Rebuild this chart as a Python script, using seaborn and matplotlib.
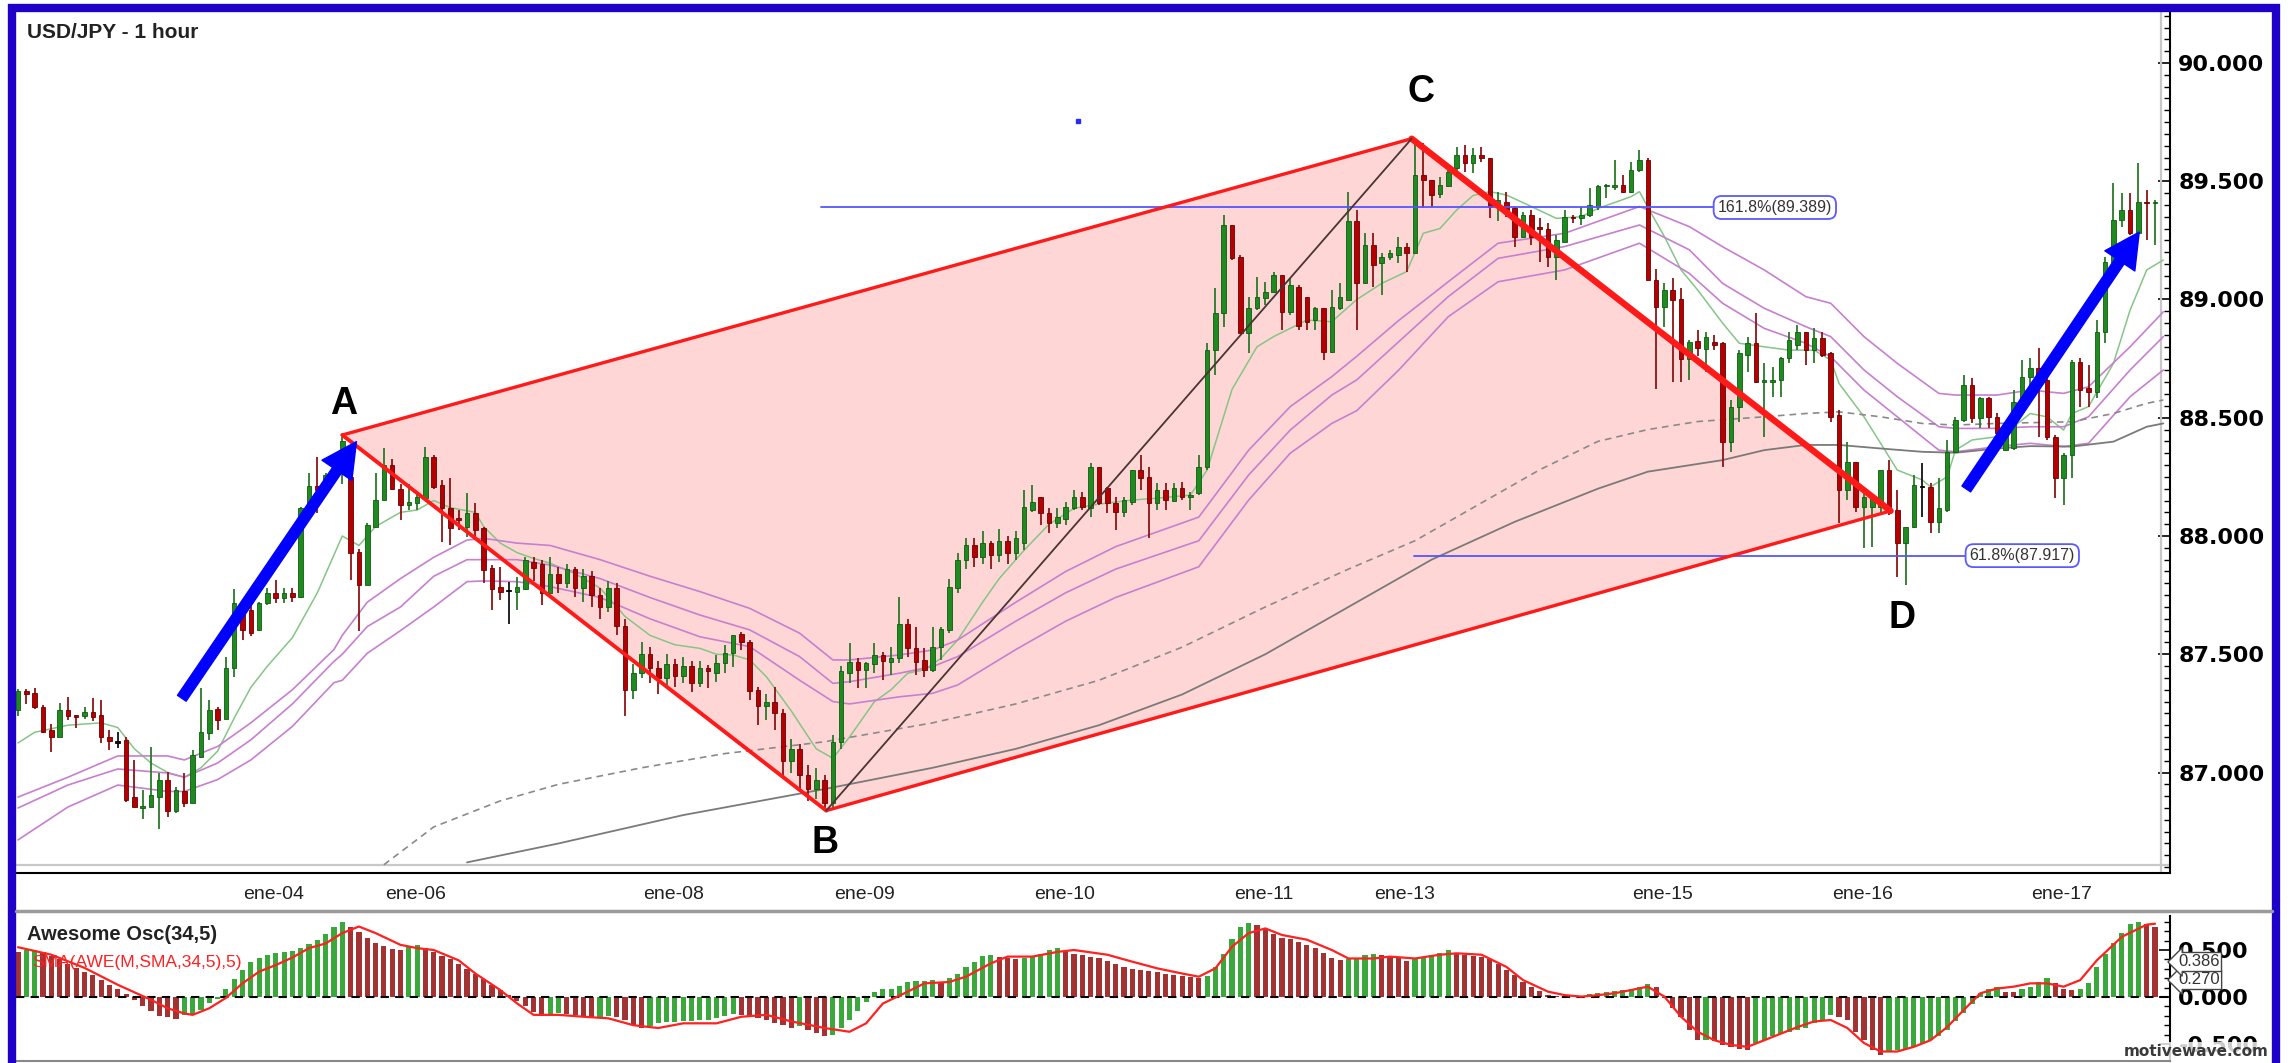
import numpy as np
import seaborn as sns
import matplotlib.pyplot as plt
from matplotlib.patches import Polygon, FancyArrowPatch, Rectangle
from matplotlib.lines import Line2D
from matplotlib.ticker import MultipleLocator
import matplotlib.transforms as mtransforms

# USD/JPY 1 hour candles (index = candle number)
opens = [87.264, 87.345, 87.336, 87.277, 87.18, 87.15, 87.264, 87.243, 87.239, 87.256,
         87.243, 87.15, 87.129, 87.138, 86.896, 86.85, 86.854, 86.896, 86.968, 86.837,
         86.922, 86.871, 87.066, 87.167, 87.268, 87.226, 87.44, 87.718, 87.687, 87.602,
         87.715, 87.757, 87.736, 87.76, 87.74, 88.10, 88.211, 88.21, 88.25, 88.35,
         88.25, 87.934, 87.793, 88.04, 88.152, 88.30, 88.20, 88.131, 88.138, 88.16,
         88.335, 88.215, 88.117, 88.075, 88.04, 88.096, 88.032, 87.863, 87.785, 87.77,
         87.764, 87.778, 87.89, 87.88, 87.757, 87.84, 87.80, 87.86, 87.78, 87.83,
         87.75, 87.70, 87.78, 87.62, 87.35, 87.42, 87.50, 87.44, 87.40, 87.46,
         87.41, 87.45, 87.38, 87.44, 87.42, 87.462, 87.504, 87.586, 87.553, 87.35,
         87.28, 87.30, 87.25, 87.05, 87.10, 86.99, 86.93, 86.97, 86.87, 87.13,
         87.422, 87.469, 87.434, 87.459, 87.497, 87.469, 87.483, 87.628, 87.525, 87.476,
         87.434, 87.532, 87.603, 87.78, 87.90, 87.96, 87.91, 87.97, 87.92, 87.98,
         87.93, 87.969, 88.11, 88.166, 88.096, 88.053, 88.074, 88.117, 88.166, 88.117,
         88.293, 88.201, 88.138, 88.103, 88.145, 88.279, 88.25, 88.138, 88.194, 88.15,
         88.201, 88.166, 88.18, 88.293, 88.786, 88.941, 89.315, 89.18, 88.857, 88.963,
         89.005, 89.033, 89.104, 88.948, 89.054, 89.012, 88.913, 88.963, 88.78, 88.963,
         88.998, 89.33, 89.068, 89.23, 89.153, 89.178, 89.19, 89.22, 89.198, 89.526,
         89.505, 89.446, 89.48, 89.555, 89.61, 89.576, 89.61, 89.597, 89.393, 89.414,
         89.385, 89.266, 89.357, 89.308, 89.30, 89.181, 89.245, 89.35, 89.343, 89.357,
         89.393, 89.48, 89.474, 89.484, 89.456, 89.547, 89.59, 89.083, 88.97, 89.04,
         89.0, 88.75, 88.826, 88.79, 88.82, 88.815, 88.399, 88.547, 88.766, 88.815,
         88.652, 88.652, 88.659, 88.751, 88.807, 88.864, 88.786, 88.836, 88.772, 88.51,
         88.194, 88.314, 88.124, 88.124, 88.124, 88.279, 88.11, 87.969, 88.04, 88.208,
         88.208, 88.06, 88.11, 88.356, 88.49, 88.638, 88.497, 88.582, 88.504, 88.364,
         88.37, 88.568, 88.674, 88.709, 88.66, 88.42, 88.244, 88.342, 88.737, 88.624,
         88.61, 88.864, 89.16, 89.336, 89.378, 89.28, 89.414, 89.407]
closes = [87.345, 87.332, 87.277, 87.171, 87.15, 87.264, 87.239, 87.235, 87.256, 87.235,
          87.15, 87.133, 87.129, 86.884, 86.854, 86.858, 86.905, 86.968, 86.837, 86.926,
          86.871, 87.074, 87.171, 87.264, 87.222, 87.442, 87.718, 87.602, 87.588, 87.718,
          87.757, 87.736, 87.757, 87.74, 88.117, 88.21, 88.194, 88.257, 88.30, 88.40,
          87.93, 87.793, 88.046, 88.152, 88.30, 88.197, 88.131, 88.145, 88.166, 88.335,
          88.208, 88.117, 88.032, 88.068, 88.096, 88.025, 87.856, 87.778, 87.764, 87.77,
          87.785, 87.898, 87.863, 87.757, 87.84, 87.80, 87.86, 87.78, 87.83, 87.75,
          87.70, 87.78, 87.62, 87.35, 87.42, 87.50, 87.44, 87.40, 87.46, 87.41,
          87.45, 87.38, 87.44, 87.43, 87.465, 87.507, 87.58, 87.553, 87.346, 87.28,
          87.30, 87.25, 87.05, 87.10, 86.99, 86.93, 86.97, 86.87, 87.13, 87.43,
          87.469, 87.434, 87.465, 87.497, 87.473, 87.483, 87.628, 87.525, 87.469, 87.434,
          87.532, 87.605, 87.783, 87.90, 87.96, 87.91, 87.97, 87.92, 87.98, 87.93,
          87.99, 88.124, 88.145, 88.096, 88.053, 88.081, 88.124, 88.166, 88.124, 88.293,
          88.138, 88.138, 88.103, 88.152, 88.279, 88.244, 88.138, 88.194, 88.152, 88.201,
          88.166, 88.173, 88.293, 88.786, 88.941, 89.315, 89.174, 88.857, 88.963, 89.012,
          89.033, 89.104, 88.948, 89.06, 88.89, 88.906, 88.963, 88.78, 88.97, 89.012,
          89.33, 89.068, 89.23, 89.146, 89.181, 89.195, 89.22, 89.198, 89.526, 89.505,
          89.442, 89.484, 89.54, 89.61, 89.576, 89.61, 89.597, 89.393, 89.42, 89.379,
          89.266, 89.357, 89.266, 89.30, 89.181, 89.252, 89.35, 89.343, 89.357, 89.40,
          89.48, 89.484, 89.484, 89.456, 89.547, 89.59, 89.083, 88.97, 89.04, 88.998,
          88.75, 88.82, 88.794, 88.843, 88.807, 88.399, 88.547, 88.772, 88.815, 88.652,
          88.659, 88.659, 88.751, 88.829, 88.864, 88.786, 88.836, 88.765, 88.504, 88.194,
          88.314, 88.124, 88.166, 88.166, 88.279, 88.11, 87.969, 88.04, 88.215, 88.208,
          88.06, 88.117, 88.356, 88.49, 88.638, 88.497, 88.582, 88.504, 88.434, 88.434,
          88.568, 88.674, 88.709, 88.66, 88.42, 88.244, 88.342, 88.737, 88.617, 88.61,
          88.864, 89.16, 89.336, 89.378, 89.28, 89.414, 89.407, 89.414]
highs = [87.353, 87.353, 87.357, 87.285, 87.205, 87.294, 87.32, 87.243, 87.277, 87.315,
         87.306, 87.18, 87.171, 87.15, 87.053, 86.926, 87.108, 86.998, 87.002, 86.939,
         86.998, 87.095, 87.357, 87.306, 87.277, 87.488, 87.774, 87.72, 87.72, 87.72,
         87.78, 87.814, 87.78, 87.78, 88.124, 88.265, 88.335, 88.265, 88.33, 88.42,
         88.265, 87.944, 88.053, 88.265, 88.37, 88.324, 88.22, 88.22, 88.187, 88.377,
         88.342, 88.236, 88.244, 88.11, 88.18, 88.138, 88.039, 87.877, 87.87, 87.807,
         87.828, 87.912, 87.912, 87.898, 87.912, 87.87, 87.88, 87.87, 87.86, 87.85,
         87.78, 87.81, 87.80, 87.65, 87.46, 87.55, 87.53, 87.47, 87.50, 87.48,
         87.49, 87.47, 87.47, 87.455, 87.497, 87.539, 87.58, 87.596, 87.56, 87.36,
         87.33, 87.36, 87.27, 87.14, 87.12, 87.03, 87.02, 86.99, 87.16, 87.45,
         87.549, 87.483, 87.469, 87.549, 87.511, 87.532, 87.741, 87.648, 87.617, 87.525,
         87.617, 87.617, 87.817, 87.93, 87.99, 87.99, 88.02, 87.98, 88.03, 88.00,
         88.02, 88.194, 88.215, 88.166, 88.117, 88.117, 88.145, 88.194, 88.187, 88.307,
         88.293, 88.208, 88.166, 88.166, 88.279, 88.342, 88.293, 88.222, 88.222, 88.222,
         88.23, 88.187, 88.342, 88.815, 89.047, 89.357, 89.315, 89.188, 89.012, 89.096,
         89.075, 89.118, 89.104, 89.089, 89.06, 89.012, 88.97, 88.963, 89.04, 89.068,
         89.456, 89.378, 89.28, 89.28, 89.195, 89.21, 89.265, 89.237, 89.681, 89.66,
         89.505, 89.52, 89.57, 89.646, 89.653, 89.639, 89.646, 89.597, 89.456, 89.456,
         89.393, 89.371, 89.378, 89.343, 89.322, 89.273, 89.378, 89.357, 89.393, 89.47,
         89.484, 89.49, 89.59, 89.526, 89.583, 89.632, 89.597, 89.13, 89.068, 89.09,
         89.05, 88.829, 88.87, 88.864, 88.85, 88.822, 88.575, 88.786, 88.843, 88.942,
         88.73, 88.716, 88.758, 88.864, 88.892, 88.864, 88.878, 88.864, 88.779, 88.533,
         88.399, 88.314, 88.18, 88.173, 88.279, 88.321, 88.194, 88.04, 88.258, 88.307,
         88.222, 88.244, 88.406, 88.504, 88.68, 88.666, 88.589, 88.589, 88.518, 88.44,
         88.617, 88.744, 88.751, 88.793, 88.673, 88.427, 88.349, 88.744, 88.751, 88.723,
         88.913, 89.181, 89.491, 89.449, 89.449, 89.576, 89.463, 89.42]
lows = [87.239, 87.29, 87.268, 87.167, 87.087, 87.15, 87.222, 87.19, 87.226, 87.218,
        87.125, 87.095, 87.104, 86.875, 86.854, 86.803, 86.854, 86.761, 86.812, 86.829,
        86.854, 86.871, 87.061, 87.138, 87.18, 87.226, 87.405, 87.56, 87.577, 87.60,
        87.71, 87.715, 87.715, 87.72, 87.736, 88.09, 88.096, 88.21, 88.22, 88.22,
        87.814, 87.60, 87.793, 88.04, 88.152, 88.194, 88.067, 88.11, 88.11, 88.152,
        88.197, 87.976, 87.962, 88.025, 87.997, 87.983, 87.80, 87.687, 87.73, 87.63,
        87.687, 87.772, 87.81, 87.71, 87.757, 87.76, 87.78, 87.74, 87.72, 87.70,
        87.65, 87.68, 87.58, 87.24, 87.31, 87.40, 87.38, 87.33, 87.37, 87.36,
        87.38, 87.34, 87.36, 87.356, 87.384, 87.419, 87.448, 87.518, 87.307, 87.20,
        87.22, 87.18, 86.98, 87.00, 86.93, 86.88, 86.89, 86.84, 86.85, 87.10,
        87.377, 87.356, 87.356, 87.419, 87.391, 87.412, 87.462, 87.49, 87.412, 87.405,
        87.426, 87.476, 87.589, 87.76, 87.86, 87.87, 87.88, 87.86, 87.89, 87.88,
        87.90, 87.94, 88.10, 88.046, 88.011, 88.032, 88.046, 88.11, 88.11, 88.082,
        88.131, 88.096, 88.025, 88.082, 88.131, 88.194, 87.99, 88.11, 88.11, 88.145,
        88.152, 88.11, 88.173, 88.279, 88.681, 88.885, 89.167, 88.857, 88.773, 88.956,
        88.977, 89.026, 88.871, 88.934, 88.87, 88.871, 88.871, 88.744, 88.773, 88.956,
        88.998, 88.871, 89.068, 89.054, 89.02, 89.167, 89.153, 89.118, 89.198, 89.385,
        89.393, 89.428, 89.475, 89.54, 89.54, 89.533, 89.583, 89.343, 89.33, 89.35,
        89.224, 89.259, 89.231, 89.16, 89.139, 89.083, 89.238, 89.322, 89.315, 89.35,
        89.378, 89.43, 89.463, 89.449, 89.449, 89.54, 89.083, 88.62, 88.885, 88.652,
        88.652, 88.66, 88.759, 88.695, 88.786, 88.293, 88.356, 88.483, 88.695, 88.645,
        88.42, 88.589, 88.589, 88.73, 88.786, 88.723, 88.73, 88.758, 88.483, 88.053,
        88.152, 88.103, 87.948, 87.955, 88.096, 88.089, 87.828, 87.793, 88.032, 88.082,
        88.011, 88.011, 88.103, 88.349, 88.483, 88.476, 88.455, 88.455, 88.392, 88.36,
        88.364, 88.561, 88.631, 88.42, 88.406, 88.159, 88.131, 88.244, 88.547, 88.547,
        88.582, 88.814, 89.153, 89.308, 89.273, 89.273, 89.252, 89.23]

# moving averages (sampled along the chart)
green_idx = [0, 2, 6, 10, 12, 14, 16, 18, 20, 22, 24, 26, 28, 30, 33, 36, 39, 41, 43, 46, 48, 50,
             52, 55, 56, 58, 60, 62, 64, 67, 70, 73, 76, 79, 82, 84, 86, 88, 90, 93, 96, 98, 100,
             103, 105, 107, 109, 111, 113, 116, 118, 121, 124, 127, 130, 134, 137, 141, 143, 146,
             149, 151, 155, 158, 161, 164, 167, 169, 171, 173, 175, 177, 179, 182, 185, 188, 190,
             194, 195, 196, 198, 200, 202, 205, 207, 210, 213, 216, 218, 219, 222, 224, 226, 229,
             230, 232, 233, 235, 238, 240, 242, 244, 246, 247, 249, 252, 254, 256, 258]
green_val = [87.125, 87.17, 87.20, 87.21, 87.19, 87.10, 87.04, 87.00, 86.98, 87.02, 87.09, 87.23,
             87.36, 87.45, 87.57, 87.76, 88.00, 87.96, 88.04, 88.10, 88.11, 88.15, 88.12, 88.10,
             88.04, 87.97, 87.93, 87.905, 87.885, 87.84, 87.78, 87.66, 87.58, 87.54, 87.525,
             87.50, 87.497, 87.476, 87.405, 87.26, 87.10, 87.06, 87.15, 87.30, 87.35, 87.42,
             87.434, 87.483, 87.56, 87.72, 87.82, 87.94, 88.05, 88.117, 88.135, 88.152, 88.16,
             88.173, 88.279, 88.62, 88.80, 88.843, 88.913, 88.906, 89.00, 89.068, 89.118, 89.28,
             89.30, 89.378, 89.44, 89.456, 89.442, 89.393, 89.343, 89.35, 89.385, 89.435, 89.456,
             89.39, 89.266, 89.125, 89.04, 88.90, 88.815, 88.80, 88.786, 88.786, 88.744, 88.645,
             88.504, 88.392, 88.279, 88.237, 88.208, 88.25, 88.363, 88.406, 88.42, 88.462,
             88.518, 88.504, 88.448, 88.518, 88.547, 88.73, 88.955, 89.125, 89.167]

purple_idx = [0, 6, 12, 18, 20, 24, 28, 33, 38, 39, 42, 46, 50, 54, 56, 60, 64, 70, 76, 82, 88,
              94, 98, 100, 106, 110, 113, 120, 126, 132, 142, 148, 153, 158, 161, 166, 172, 178,
              186, 195, 201, 205, 210, 215, 218, 222, 226, 231, 233, 238, 242, 246, 249, 254, 258]
purple_1 = [86.896, 86.98, 87.07, 87.07, 87.053, 87.11, 87.21, 87.35, 87.52, 87.58, 87.72, 87.82,
            87.91, 87.983, 87.99, 87.97, 87.96, 87.90, 87.83, 87.765, 87.694, 87.589, 87.476,
            87.476, 87.497, 87.518, 87.56, 87.72, 87.85, 87.955, 88.08, 88.363, 88.547, 88.674,
            88.76, 88.91, 89.075, 89.238, 89.28, 89.393, 89.308, 89.223, 89.125, 89.012, 88.984,
            88.843, 88.73, 88.603, 88.596, 88.596, 88.617, 88.603, 88.631, 88.80, 88.948]
purple_2 = [86.85, 86.947, 87.015, 86.998, 86.98, 87.04, 87.138, 87.29, 87.47, 87.50, 87.617, 87.70,
            87.83, 87.90, 87.90, 87.90, 87.877, 87.82, 87.74, 87.666, 87.603, 87.49, 87.377,
            87.384, 87.42, 87.448, 87.49, 87.64, 87.76, 87.86, 87.98, 88.258, 88.448, 88.596,
            88.66, 88.82, 89.012, 89.174, 89.224, 89.315, 89.21, 89.068, 88.963, 88.885, 88.843,
            88.702, 88.589, 88.462, 88.455, 88.455, 88.462, 88.462, 88.504, 88.702, 88.843]
purple_3 = [86.715, 86.854, 86.947, 86.92, 86.92, 86.97, 87.053, 87.195, 87.38, 87.39, 87.504, 87.60,
            87.70, 87.807, 87.81, 87.807, 87.786, 87.74, 87.65, 87.574, 87.532, 87.39, 87.30,
            87.29, 87.32, 87.335, 87.37, 87.52, 87.64, 87.74, 87.87, 88.152, 88.35, 88.476,
            88.53, 88.70, 88.927, 89.075, 89.125, 89.238, 89.11, 88.984, 88.878, 88.815, 88.758,
            88.617, 88.504, 88.363, 88.356, 88.378, 88.392, 88.378, 88.392, 88.589, 88.702]

dashed_idx = [44, 50, 58, 65, 75, 85, 97, 110, 120, 130, 140, 150, 160, 168, 175, 183, 190, 196,
              202, 210, 215, 219, 224, 229, 233, 238, 247, 252, 256, 258]
dashed_val = [86.61, 86.77, 86.88, 86.95, 87.02, 87.08, 87.13, 87.21, 87.29, 87.39, 87.53, 87.70,
              87.86, 87.98, 88.12, 88.28, 88.40, 88.45, 88.484, 88.504, 88.518, 88.525, 88.504,
              88.476, 88.469, 88.476, 88.483, 88.518, 88.561, 88.575]
solid_idx = [54, 65, 80, 97, 110, 120, 130, 140, 150, 160, 170, 180, 190, 196, 205, 210, 215, 219,
             224, 229, 233, 238, 242, 247, 252, 256, 258]
solid_val = [86.62, 86.70, 86.82, 86.93, 87.02, 87.10, 87.20, 87.33, 87.50, 87.70, 87.90, 88.06,
             88.20, 88.272, 88.321, 88.363, 88.385, 88.385, 88.37, 88.356, 88.352, 88.37, 88.38,
             88.378, 88.399, 88.462, 88.476]

# Awesome oscillator and its SMA
ao = [0.48, 0.50, 0.50, 0.48, 0.44, 0.40, 0.35, 0.31, 0.27, 0.23,
      0.18, 0.13, 0.08, 0.03, -0.03, -0.10, -0.15, -0.20, -0.21, -0.23,
      -0.19, -0.185, -0.14, -0.06, -0.02, 0.09, 0.19, 0.29, 0.37, 0.42,
      0.45, 0.47, 0.48, 0.49, 0.52, 0.56, 0.61, 0.67, 0.74, 0.80,
      0.75, 0.69, 0.63, 0.58, 0.54, 0.51, 0.50, 0.53, 0.55, 0.52,
      0.48, 0.44, 0.40, 0.35, 0.30, 0.25, 0.19, 0.13, 0.07, 0.02,
      -0.04, -0.10, -0.16, -0.20, -0.18, -0.17, -0.18, -0.19, -0.21, -0.22,
      -0.21, -0.20, -0.21, -0.25, -0.30, -0.33, -0.31, -0.28, -0.27, -0.265,
      -0.26, -0.255, -0.25, -0.24, -0.22, -0.20, -0.18, -0.19, -0.20, -0.22,
      -0.25, -0.28, -0.30, -0.33, -0.31, -0.35, -0.38, -0.41, -0.40, -0.33,
      -0.24, -0.15, -0.05, 0.05, 0.08, 0.09, 0.12, 0.16, 0.165, 0.17,
      0.18, 0.15, 0.20, 0.25, 0.32, 0.37, 0.44, 0.45, 0.43, 0.42,
      0.40, 0.41, 0.43, 0.46, 0.50, 0.52, 0.49, 0.46, 0.45, 0.43,
      0.41, 0.38, 0.35, 0.32, 0.30, 0.29, 0.28, 0.27, 0.25, 0.23,
      0.22, 0.21, 0.20, 0.22, 0.32, 0.46, 0.62, 0.74, 0.79, 0.77,
      0.72, 0.67, 0.63, 0.62, 0.59, 0.55, 0.52, 0.47, 0.42, 0.39,
      0.40, 0.42, 0.45, 0.46, 0.45, 0.43, 0.41, 0.38, 0.40, 0.43,
      0.45, 0.47, 0.50, 0.47, 0.45, 0.44, 0.43, 0.40, 0.35, 0.29,
      0.23, 0.16, 0.11, 0.06, 0.025, 0.012, 0.006, 0.004, 0.01, 0.03,
      0.045, 0.05, 0.06, 0.075, 0.09, 0.11, 0.138, 0.11, -0.01, -0.12,
      -0.21, -0.35, -0.46, -0.46, -0.47, -0.51, -0.53, -0.55, -0.56, -0.49,
      -0.46, -0.42, -0.39, -0.37, -0.35, -0.33, -0.28, -0.245, -0.19, -0.21,
      -0.245, -0.37, -0.46, -0.56, -0.62, -0.58, -0.56, -0.55, -0.53, -0.49,
      -0.46, -0.42, -0.35, -0.26, -0.17, -0.07, 0.04, 0.09, 0.11, 0.057,
      0.05, 0.09, 0.11, 0.16, 0.20, 0.15, 0.09, 0.074, 0.09, 0.145,
      0.32, 0.46, 0.57, 0.68, 0.78, 0.80, 0.78, 0.75]
sig_idx = [0, 4, 8, 12, 16, 18, 20, 21, 23, 25, 27, 29, 31, 33, 35, 37, 39, 41, 43, 46, 48, 50,
           53, 55, 58, 60, 62, 65, 68, 71, 74, 77, 80, 84, 87, 90, 93, 97, 100, 102, 104, 107,
           109, 112, 114, 117, 119, 122, 125, 127, 131, 134, 137, 140, 142, 144, 146, 148, 150,
           152, 155, 158, 160, 163, 165, 168, 171, 173, 176, 179, 181, 184, 186, 188, 190, 192,
           194, 196, 198, 200, 202, 204, 206, 208, 210, 212, 214, 216, 218, 220, 222, 224, 226,
           228, 230, 232, 234, 236, 238, 240, 242, 244, 246, 248, 250, 253, 256, 257]
sig_val = [0.53, 0.45, 0.31, 0.13, -0.03, -0.12, -0.175, -0.19, -0.12, -0.01, 0.145, 0.27, 0.34,
           0.42, 0.52, 0.57, 0.68, 0.75, 0.68, 0.555, 0.52, 0.50, 0.39, 0.25, 0.074, -0.067,
           -0.19, -0.19, -0.21, -0.227, -0.30, -0.33, -0.28, -0.28, -0.21, -0.19, -0.26, -0.33,
           -0.37, -0.28, -0.07, 0.057, 0.145, 0.16, 0.216, 0.358, 0.43, 0.43, 0.48, 0.50, 0.45,
           0.376, 0.305, 0.25, 0.216, 0.305, 0.535, 0.68, 0.73, 0.66, 0.61, 0.50, 0.41, 0.41,
           0.43, 0.41, 0.45, 0.465, 0.45, 0.32, 0.18, 0.057, 0.02, 0.004, 0.02, 0.04, 0.074,
           0.11, 0.004, -0.21, -0.37, -0.46, -0.51, -0.53, -0.46, -0.39, -0.32, -0.26, -0.245,
           -0.33, -0.49, -0.58, -0.58, -0.53, -0.46, -0.32, -0.138, 0.04, 0.09, 0.11, 0.145,
           0.145, 0.11, 0.18, 0.39, 0.64, 0.77, 0.78]

# date axis
tick_idx = [8, 32, 49, 80, 103, 127, 151, 168, 199, 223, 247]
tick_lbl = ['', 'ene-04', 'ene-06', 'ene-08', 'ene-09', 'ene-10', 'ene-11', 'ene-13',
            'ene-15', 'ene-16', 'ene-17']

# harmonic pattern points A, B, C, D
pat_names = ['A', 'B', 'C', 'D']
pat_idx = [39.0, 97.2, 167.6, 225.2]
pat_price = [88.427, 86.839, 89.680, 88.106]
name_idx = [39.2, 97.1, 168.7, 226.6]
name_price = [88.56, 86.70, 89.877, 87.653]

# fibonacci levels
fib_text = ['161.8%(89.389)', '61.8%(87.917)']
fib_price = [89.389, 87.917]
fib_start = [96.6, 167.9]
fib_end = [203.8, 234.1]

# blue arrows (tail -> head)
arrow_from = [(19.7, 87.314), (234.3, 88.199)]
arrow_to = [(40.7, 88.399), (255.1, 89.285)]

# last value flags on the oscillator scale
flag_text = ['0.270', '0.386']
flag_y_px = [980, 962]

sns.set_style("white")
plt.rcParams['font.family'] = ['Liberation Sans', 'DejaVu Sans']

W, H = 2290, 1063
fig = plt.figure(figsize=(W / 100, H / 100), dpi=100)


def px_box(x0, y0, x1, y1):
    return [x0 / W, 1 - y1 / H, (x1 - x0) / W, (y1 - y0) / H]


ax = fig.add_axes(px_box(16, 12, 2170, 873))
axo = fig.add_axes(px_box(16, 916, 2170, 1061))
XLIM = (-0.24, 258.8)

# pattern fill (behind everything)
A, B, C, D = [(pat_idx[k], pat_price[k]) for k in range(4)]
ax.add_patch(Polygon([A, C, D, B], closed=True, facecolor='#ffd6d6', edgecolor='none', zorder=1))

# moving averages
sns.lineplot(x=green_idx, y=green_val, ax=ax, color='#86c586', lw=1.1, zorder=2)
for pv in (purple_1, purple_2, purple_3):
    sns.lineplot(x=purple_idx, y=pv, ax=ax, color='#c77fcf', lw=1.2, zorder=2)
sns.lineplot(x=dashed_idx, y=dashed_val, ax=ax, color='#8a8a8a', lw=1.2,
             linestyle=(0, (4, 3)), zorder=2)
sns.lineplot(x=solid_idx, y=solid_val, ax=ax, color='#7a7a7a', lw=1.3, zorder=2)

# candles
o = np.array(opens)
c = np.array(closes)
hi = np.array(highs)
lo = np.array(lows)
idx = np.arange(len(c))
up = c > o
dn = c < o
body = np.where(up, '#1f8a1f', np.where(dn, '#b40000', '#111111'))
edge = np.where(up, '#0e5c0e', np.where(dn, '#6a0000', '#000000'))
wick = np.where(up, '#2a7a2a', np.where(dn, '#8c1414', '#111111'))
ax.vlines(idx, lo, hi, colors=wick, lw=1.3, zorder=3)
bottom = np.minimum(o, c)
height = np.maximum(np.abs(c - o), 0.005)
ax.bar(idx, height, bottom=bottom - np.where(c == o, 0.0025, 0), width=0.55,
       color=body, edgecolor=edge, linewidth=0.6, zorder=3)

# fibonacci lines and boxes
for k in range(2):
    ax.plot([fib_start[k], fib_end[k]], [fib_price[k]] * 2, color='#5555ff', lw=1.3, zorder=4)
    ax.text(fib_end[k] + 0.6, fib_price[k], fib_text[k], fontsize=11.5, color='#333333',
            ha='left', va='center', zorder=8,
            bbox=dict(boxstyle='round,pad=0.25,rounding_size=0.5', facecolor='white',
                      edgecolor='#5a5aff', lw=1.3))

# pattern edges
ax.plot([A[0], C[0]], [A[1], C[1]], color='#ff1a1a', lw=2.4, zorder=5, solid_capstyle='round')
ax.plot([C[0], D[0]], [C[1], D[1]], color='#ff1a1a', lw=4.6, zorder=5, solid_capstyle='round')
ax.plot([D[0], B[0]], [D[1], B[1]], color='#ff1a1a', lw=2.4, zorder=5, solid_capstyle='round')
ax.plot([B[0], A[0]], [B[1], A[1]], color='#ff1a1a', lw=2.8, zorder=5, solid_capstyle='round')
ax.plot([B[0], C[0]], [B[1], C[1]], color='#4a3434', lw=1.3, zorder=5)

for k in range(4):
    ax.text(name_idx[k], name_price[k], pat_names[k], fontsize=27, fontweight='bold',
            color='black', ha='center', va='center', zorder=9)

for p0, p1 in zip(arrow_from, arrow_to):
    ax.add_patch(FancyArrowPatch(p0, p1, arrowstyle='simple,head_length=25,head_width=26,tail_width=7.5',
                                 mutation_scale=1, color='#0000ff', shrinkA=0, shrinkB=0, zorder=7))

ax.plot([127.5], [89.755], marker='s', ms=2.5, color='#2a2aff', lw=0, zorder=6)

# main axes styling
ax.set_xlim(*XLIM)
ax.set_ylim(86.5751, 90.2156)
ax.set_xlabel('')
ax.set_ylabel('')
for s in ('top', 'left'):
    ax.spines[s].set_visible(False)
for s in ('right', 'bottom'):
    ax.spines[s].set_color('black')
    ax.spines[s].set_linewidth(1.5)
ax.yaxis.tick_right()
yt = [87.0, 87.5, 88.0, 88.5, 89.0, 89.5, 90.0]
ax.set_yticks(yt, ['%.3f' % v for v in yt], fontsize=16, fontweight='bold', fontfamily='DejaVu Sans')
ax.yaxis.set_minor_locator(MultipleLocator(0.05))
ax.tick_params(axis='y', which='major', direction='in', length=9, width=1.2, pad=6, colors='black')
ax.tick_params(axis='y', which='minor', direction='in', length=4, width=1.0, colors='black')
ax.set_xticks(tick_idx, [''] * len(tick_idx))
ax.tick_params(axis='x', which='major', direction='in', length=8, width=1.2, colors='black')
ax.plot([0, 1], [0.0093, 0.0093], transform=ax.transAxes, color='#c8c8c8', lw=1.6, zorder=1)
ax.plot([0.9958, 0.9958], [0, 1], transform=ax.transAxes, color='#c8c8c8', lw=1.6, zorder=1)
trans = mtransforms.blended_transform_factory(ax.transData, ax.transAxes)
for t, lab in zip(tick_idx, tick_lbl):
    ax.text(t - 1.2, -0.0244, lab, transform=trans, fontsize=14, color='#222222',
            ha='center', va='center', clip_on=False)

# oscillator panel
ao_arr = np.array(ao)
ao_col = ['#a33333'] + ['#3aa83a' if ao_arr[k] >= ao_arr[k - 1] else '#a33333'
                        for k in range(1, len(ao_arr))]
axo.bar(idx, ao_arr, width=0.62, color=ao_col, linewidth=0, zorder=2)
axo.axhline(0, color='black', lw=1.5, ls=(0, (4, 3)), zorder=3)
sns.lineplot(x=sig_idx, y=sig_val, ax=axo, color='#ff2020', lw=1.6, zorder=4)
axo.set_xlim(*XLIM)
axo.set_ylim(-0.681, 0.862)
axo.set_xlabel('')
axo.set_ylabel('')
axo.set_xticks([])
for s in ('top', 'left'):
    axo.spines[s].set_visible(False)
axo.spines['right'].set_color('black')
axo.spines['right'].set_linewidth(1.5)
axo.spines['bottom'].set_color('#888888')
axo.spines['bottom'].set_linewidth(1.5)
axo.yaxis.tick_right()
ot = [-0.5, 0.0, 0.5]
axo.set_yticks(ot, ['-0.500', '0.000', '0.500'], fontsize=16, fontweight='bold',
               fontfamily='DejaVu Sans')
axo.yaxis.set_minor_locator(MultipleLocator(0.1))
axo.tick_params(axis='y', which='major', direction='in', length=8, width=1.2, pad=6, colors='black')
axo.tick_params(axis='y', which='minor', direction='in', length=4, width=1.0, colors='black')

# texts
fig.text(27 / W, 1 - 32 / H, 'USD/JPY - 1 hour', fontsize=15, fontweight='bold', color='#222222',
         ha='left', va='center')
fig.text(27 / W, 1 - 934 / H, 'Awesome Osc(34,5)', fontsize=14.5, fontweight='bold',
         color='#222222', ha='left', va='center', zorder=10)
fig.text(32 / W, 1 - 963 / H, 'SMA(AWE(M,SMA,34,5),5)', fontsize=12.5, color='#ff2020',
         ha='left', va='center', zorder=10)
for k in range(2):
    fig.text(2178 / W, 1 - flag_y_px[k] / H, flag_text[k], fontsize=12, color='#333333',
             ha='left', va='center', zorder=10 + k,
             bbox=dict(boxstyle='larrow,pad=0.12', facecolor='white', edgecolor='#444444', lw=1))
fig.text(2196 / W, 1 - 1051 / H, 'motivewave.com', fontsize=11, fontweight='bold',
         fontfamily='DejaVu Sans', color='#3a3a3a', ha='center', va='center', zorder=12,
         bbox=dict(boxstyle='square,pad=0.1', facecolor='white', edgecolor='none', alpha=0.8))

# panel separator and outer blue frame
fig.add_artist(Line2D([16 / W, 2272 / W], [1 - 911 / H] * 2, color='#9a9a9a', lw=2.5))
fig.add_artist(Rectangle((12 / W, -0.05), (2276 - 12) / W, 1.05 - 8 / H, transform=fig.transFigure,
                         fill=False, edgecolor='#1e00c8', lw=6, clip_on=False))

fig.savefig('out.png', dpi=100)
